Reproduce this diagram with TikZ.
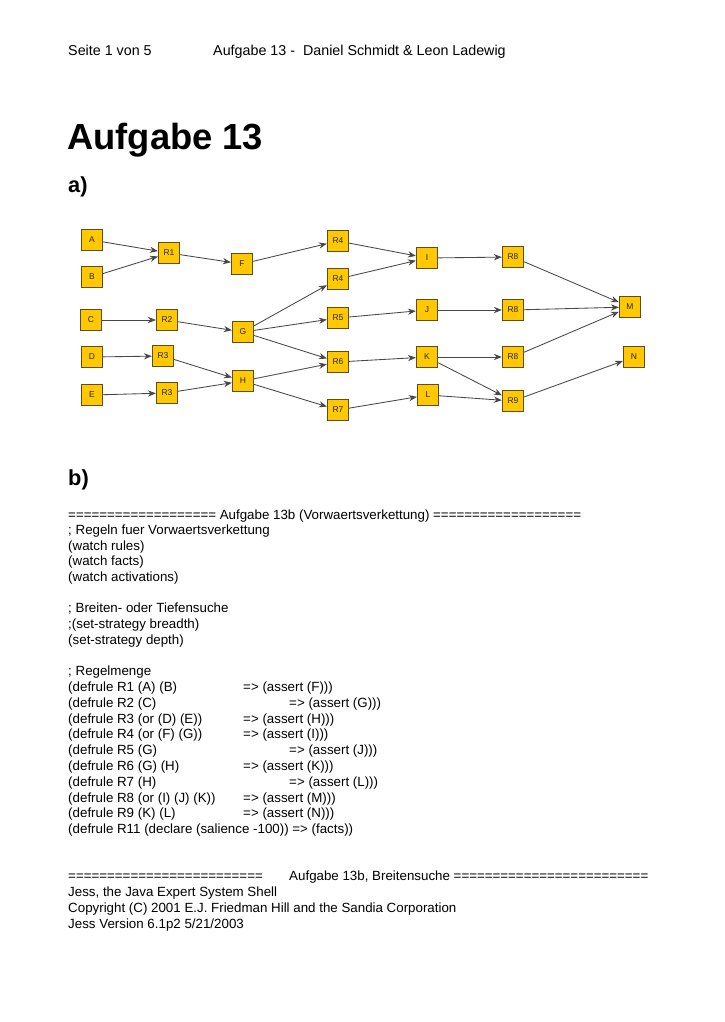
\documentclass[tikz,border=0pt]{standalone}
\usepackage{fontspec}
\setmainfont{Liberation Sans}
\usetikzlibrary{arrows.meta, positioning}
\definecolor{gelbKnoten}{HTML}{FFC800}
\definecolor{randKnoten}{HTML}{5E4E16}
\definecolor{grauKante}{HTML}{474747}
\tikzset{
  knoten/.style={
    draw=randKnoten, fill=gelbKnoten, line width=0.75pt,
    minimum size=0.62cm, inner sep=0pt,
    font=\fontsize{7}{8}\selectfont, text=black!85
  },
  kante/.style={-{Stealth[length=2.3mm, width=1.8mm]}, grauKante, line width=0.7pt},
  zeile/.style={anchor=base west, inner sep=0pt, font=\fontsize{11}{13}\selectfont},
  kopf/.style={anchor=base west, inner sep=0pt, font=\fontsize{11.8}{14}\selectfont},
}

\begin{document}
\begin{tikzpicture}[x=0.029cm, y=-0.029cm]
    \fill[white] (0,0) rectangle (724,1022);
    \useasboundingbox (0,0) rectangle (724,1022);

    % Kopfzeile und Titel
    \node[kopf] (seite) at (68,56) {Seite 1 von 5};
    \node[kopf] (autoren) at (213,56) {Aufgabe 13 -\ \ Daniel Schmidt \& Leon Ladewig};
    \node[anchor=base west, inner sep=0pt, font=\fontsize{30}{36}\selectfont\bfseries] (titel) at (67,150) {Aufgabe 13};
    \node[anchor=base west, inner sep=0pt, font=\fontsize{18}{22}\selectfont\bfseries] (teilA) at (68,193) {a)};

    % Eingangsfakten
    \node[knoten] (a) at (92,240) {A};
    \node[knoten] (b) at (92,277) {B};
    \node[knoten] (c) at (91,320) {C};
    \node[knoten] (d) at (92,357) {D};
    \node[knoten] (e) at (92,395) {E};

    % erste Regelstufe
    \node[knoten] (r1) at (169,253) {R1};
    \node[knoten] (r2) at (167,320) {R2};
    \node[knoten] (r3o) at (163,356) {R3};
    \node[knoten] (r3u) at (167,393) {R3};
    \node[knoten] (f) at (242,264) {F};
    \node[knoten] (g) at (243,332) {G};
    \node[knoten] (h) at (243,381) {H};

    % zweite Regelstufe
    \node[knoten] (r4o) at (338,241) {R4};
    \node[knoten] (r4u) at (338,279) {R4};
    \node[knoten] (r5) at (338,318) {R5};
    \node[knoten] (r6) at (338,362) {R6};
    \node[knoten] (r7) at (338,410) {R7};
    \node[knoten] (i) at (427,258) {I};
    \node[knoten] (j) at (427,310) {J};
    \node[knoten] (k) at (427,357) {K};
    \node[knoten] (l) at (428,395) {L};

    % dritte Regelstufe
    \node[knoten] (r8o) at (513,257) {R8};
    \node[knoten] (r8m) at (513,310) {R8};
    \node[knoten] (r8u) at (513,357) {R8};
    \node[knoten] (r9) at (513,401) {R9};
    \node[knoten] (m) at (630,307) {M};
    \node[knoten] (n) at (634,357) {N};

    \draw[kante] (a) -- (r1);
    \draw[kante] (b) -- (r1);
    \draw[kante] (c) -- (r2);
    \draw[kante] (d) -- (r3o);
    \draw[kante] (e) -- (r3u);
    \draw[kante] (r1) -- (f);
    \draw[kante] (r2) -- (g);
    \draw[kante] (r3o) -- (h);
    \draw[kante] (r3u) -- (h);
    \draw[kante] (f) -- (r4o);
    \draw[kante] (g) -- (r4u);
    \draw[kante] (g) -- (r5);
    \draw[kante] (g) -- (r6);
    \draw[kante] (h) -- (r6);
    \draw[kante] (h) -- (r7);
    \draw[kante] (r4o) -- (i);
    \draw[kante] (r4u) -- (i);
    \draw[kante] (r5) -- (j);
    \draw[kante] (r6) -- (k);
    \draw[kante] (r7) -- (l);
    \draw[kante] (i) -- (r8o);
    \draw[kante] (j) -- (r8m);
    \draw[kante] (k) -- (r8u);
    \draw[kante] (k) -- (r9);
    \draw[kante] (l) -- (r9);
    \draw[kante] (r8o) -- (m);
    \draw[kante] (r8m) -- (m);
    \draw[kante] (r8u) -- (m);
    \draw[kante] (r9) -- (n);

    % Teil b
    \node[anchor=base west, inner sep=0pt, font=\fontsize{18}{22}\selectfont\bfseries] (teilB) at (68,485) {b)};
    \node[zeile] (z1) at (68,519) {=================== Aufgabe 13b (Vorwaertsverkettung) ===================};
    \node[zeile] (z2) at (68,534) {; Regeln fuer Vorwaertsverkettung};
    \node[zeile] (z3) at (68,550) {(watch rules)};
    \node[zeile] (z4) at (68,565) {(watch facts)};
    \node[zeile] (z5) at (68,581) {(watch activations)};
    \node[zeile] (z6) at (68,612) {; Breiten- oder Tiefensuche};
    \node[zeile] (z7) at (68,628) {;(set-strategy breadth)};
    \node[zeile] (z8) at (68,644) {(set-strategy depth)};
    \node[zeile] (z9) at (68,675) {; Regelmenge};
    \node[zeile] (z10) at (68,691) {(defrule R1 (A) (B)};
    \node[zeile] (z10r) at (243,691) {=> (assert (F)))};
    \node[zeile] (z11) at (68,707) {(defrule R2 (C)};
    \node[zeile] (z11r) at (289,707) {=> (assert (G)))};
    \node[zeile] (z12) at (68,723) {(defrule R3 (or (D) (E))};
    \node[zeile] (z12r) at (243,723) {=> (assert (H)))};
    \node[zeile] (z13) at (68,738) {(defrule R4 (or (F) (G))};
    \node[zeile] (z13r) at (243,738) {=> (assert (I)))};
    \node[zeile] (z14) at (68,754) {(defrule R5 (G)};
    \node[zeile] (z14r) at (289,754) {=> (assert (J)))};
    \node[zeile] (z15) at (68,770) {(defrule R6 (G) (H)};
    \node[zeile] (z15r) at (243,770) {=> (assert (K)))};
    \node[zeile] (z16) at (68,786) {(defrule R7 (H)};
    \node[zeile] (z16r) at (289,786) {=> (assert (L)))};
    \node[zeile] (z17) at (68,802) {(defrule R8 (or (I) (J) (K))};
    \node[zeile] (z17r) at (243,802) {=> (assert (M)))};
    \node[zeile] (z18) at (68,817) {(defrule R9 (K) (L)};
    \node[zeile] (z18r) at (243,817) {=> (assert (N)))};
    \node[zeile] (z19) at (68,833) {(defrule R11 (declare (salience -100)) => (facts))};

    % Breitensuche
    \node[zeile] (z20) at (68,880) {=========================};
    \node[zeile] (z20r) at (289,880) {Aufgabe 13b, Breitensuche =========================};
    \node[zeile] (z21) at (68,896) {Jess, the Java Expert System Shell};
    \node[zeile] (z22) at (68,912) {Copyright (C) 2001 E.J. Friedman Hill and the Sandia Corporation};
    \node[zeile] (z23) at (68,928) {Jess Version 6.1p2 5/21/2003};
\end{tikzpicture}
\end{document}
